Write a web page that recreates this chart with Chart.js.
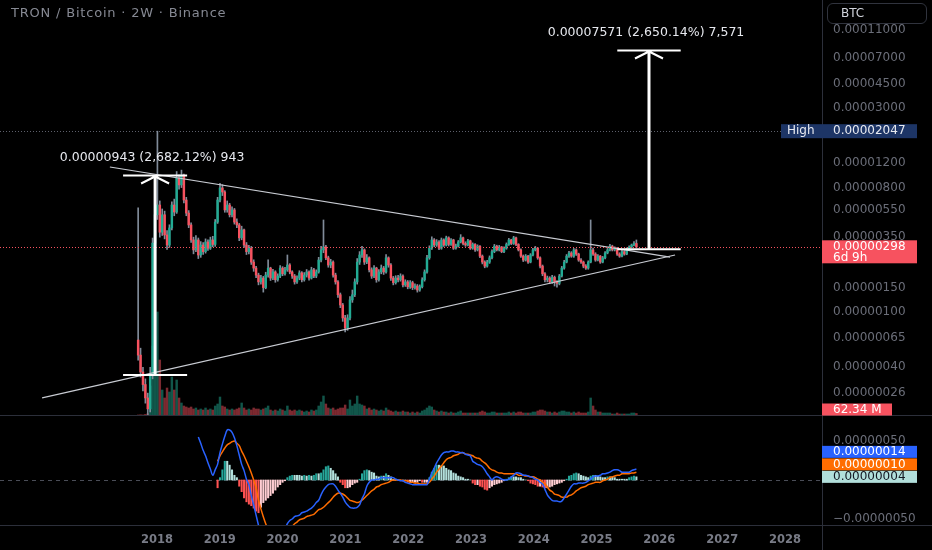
<!DOCTYPE html>
<html lang="en">
<head>
<meta charset="UTF-8">
<title>TRON / Bitcoin · 2W · Binance</title>
<script src="https://cdn.jsdelivr.net/npm/chart.js@4.4.1/dist/chart.umd.min.js"></script>
<style>
  html, body { margin: 0; padding: 0; background: #000; }
  #wrap { position: relative; width: 932px; height: 550px; overflow: hidden; background: #000; font-family: "DejaVu Sans", sans-serif; }
  #priceCv { position: absolute; left: 0; top: 0; }
  #macdCv { position: absolute; left: 0; top: 416px; }
  .title { position: absolute; left: 11px; top: 5px; color: #868993; font-size: 13px; letter-spacing: 0.8px; }
  .btc { position: absolute; left: 827px; top: 3px; width: 100px; height: 21px; box-sizing: border-box;
         border: 1px solid #30333d; border-radius: 6px; color: #d1d4dc; font-size: 12px; line-height: 19px; padding-left: 13px; }
</style>
</head>
<body>
<div id="wrap">
  <canvas id="priceCv" width="932" height="416"></canvas>
  <canvas id="macdCv" width="932" height="134"></canvas>
  <div class="title">TRON / Bitcoin · 2W · Binance</div>
  <div class="btc">BTC</div>
</div>
<script>
// 2-week candles, prices in satoshi (1e-8 BTC), first candle mid-Sept 2017
const startYear = 2017.70;
const stepYears = 14 / 365.25;

const opens = [63,49,37,30,24,20,35,317,508,598,
  380,508,363,307,408,598,532,937,836,985,
  650,523,429,334,283,334,260,307,275,323,
  291,334,310,450,650,795,743,551,598,508,
  551,450,429,346,395,307,275,291,231,209,
  186,166,177,151,186,209,177,196,172,183,
  209,190,203,220,196,183,166,177,193,172,
  186,196,177,203,183,196,239,283,297,248,
  220,231,186,166,134,113,91,77,91,123,
  134,166,231,260,283,231,248,203,183,209,
  172,196,209,196,248,220,177,164,177,172,
  183,158,166,153,164,151,155,145,153,172,
  196,248,291,334,307,323,291,334,307,346,
  310,334,291,301,323,346,315,307,329,291,
  310,283,301,255,231,216,231,248,275,301,
  283,297,275,291,310,334,315,346,310,283,
  255,239,255,231,260,283,291,248,216,190,
  172,177,166,179,166,162,183,209,231,255,
  269,255,283,264,239,231,216,209,231,283,
  264,239,255,231,248,269,283,301,283,291,
  264,255,275,264,287,297,307,315];

const highs = [570,55,40,33,26,40,345,560,2047,640,
  560,540,390,430,630,660,1045,990,1070,1000,
  680,545,445,350,360,345,325,320,340,335,
  350,355,470,680,860,840,760,640,615,580,
  565,475,440,420,400,320,305,300,240,215,
  192,185,182,195,240,212,205,200,190,218,
  214,212,260,225,200,188,184,200,197,194,
  204,200,212,208,203,250,300,466,305,255,
  242,236,192,170,138,116,95,96,130,145,
  175,245,275,300,288,262,252,210,218,212,
  204,220,215,262,252,225,182,184,185,190,
  187,172,170,170,168,161,159,158,178,203,
  258,303,352,342,336,330,345,340,356,352,
  342,338,312,331,365,350,324,338,333,318,
  314,308,304,260,236,238,256,283,310,306,
  305,300,298,318,343,338,355,350,314,288,
  260,262,258,266,290,300,295,252,220,194,
  183,181,185,183,170,188,215,238,262,276,
  275,290,288,268,245,235,222,236,466,292,
  270,262,258,254,275,290,310,306,298,295,
  270,282,280,293,303,312,325,334];

const lows = [45,34,27,22,18,19,33,290,470,350,
  360,340,285,295,395,500,520,780,800,620,
  500,410,320,265,275,245,250,262,268,280,
  285,298,300,440,630,700,530,530,490,490,
  435,410,330,335,295,262,265,222,198,178,
  158,160,140,148,180,170,172,165,168,178,
  184,186,198,190,176,160,162,172,166,168,
  180,171,174,178,178,192,232,270,240,212,
  210,180,160,128,108,86,72,74,88,118,
  130,160,222,250,222,225,196,176,178,165,
  168,190,188,192,212,170,158,160,166,168,
  153,154,148,149,146,147,140,142,150,168,
  192,242,285,298,300,284,286,300,302,302,
  305,285,286,296,318,308,300,302,285,286,
  276,278,249,224,210,212,226,244,270,278,
  278,270,270,286,305,309,310,304,278,250,
  233,235,226,228,256,278,242,210,184,166,
  166,161,162,155,152,158,180,205,228,250,
  250,250,258,234,226,210,204,205,228,258,
  234,236,226,228,244,265,278,278,278,258,
  250,252,259,261,283,293,303,294];

const closes = [49,37,30,24,20,35,317,508,598,380,
  508,363,307,408,598,532,937,836,985,650,
  523,429,334,283,334,260,307,275,323,291,
  334,310,450,650,795,743,551,598,508,551,
  450,429,346,395,307,275,291,231,209,186,
  166,177,151,186,209,177,196,172,183,209,
  190,203,220,196,183,166,177,193,172,186,
  196,177,203,183,196,239,283,297,248,220,
  231,186,166,134,113,91,77,91,123,134,
  166,231,260,283,231,248,203,183,209,172,
  196,209,196,248,220,177,164,177,172,183,
  158,166,153,164,151,155,145,153,172,196,
  248,291,334,307,323,291,334,307,346,310,
  334,291,301,323,346,315,307,329,291,310,
  283,301,255,231,216,231,248,275,301,283,
  297,275,291,310,334,315,346,310,283,255,
  239,255,231,260,283,291,248,216,190,172,
  177,166,179,166,162,183,209,231,255,269,
  255,283,264,239,231,216,209,231,283,264,
  239,255,231,248,269,283,301,283,291,264,
  255,275,264,287,297,307,315,298];

// volume in millions
const volumes = [25,30,25,40,60,750,1750,2000,2600,1400,
  650,450,700,600,975,650,900,450,325,250,
  225,200,225,175,200,150,175,150,200,150,
  175,150,250,300,475,250,225,175,150,175,
  150,175,200,325,200,150,175,150,200,175,
  175,150,175,200,250,150,125,150,125,175,
  150,125,250,150,125,150,125,150,125,100,
  125,100,150,125,150,250,350,500,300,200,
  175,200,150,175,200,200,275,175,400,250,
  300,500,300,275,250,175,200,150,175,150,
  125,150,125,200,150,125,100,125,100,100,
  125,100,100,75,100,75,100,75,125,150,
  200,250,225,150,125,100,125,100,100,75,
  100,75,75,100,125,75,75,75,75,75,
  75,75,100,125,100,75,75,100,100,75,
  75,75,75,75,100,75,100,75,100,100,
  75,75,75,75,100,100,125,150,150,125,
  100,100,75,100,75,100,125,125,100,100,
  75,100,75,100,75,75,75,100,450,250,
  150,100,100,75,75,75,75,50,50,75,
  50,50,50,50,50,75,75,62.34];

// MACD (12, 26, 9) in satoshi
const macdStart = 25;
const macdLine = [55,47,38,31,22,14,6,13,20,35,
  46,56,64,64,61,54,44,32,20,12,
  1,-6,-20,-32,-45,-58,-68,-83,-96,-106,
  -115,-120,-118,-110,-100,-83,-64,-56,-52,-50,
  -47,-46,-45,-42,-41,-40,-38,-36,-33,-29,
  -26,-19,-13,-9,-6,-5,-5,-8,-13,-17,
  -22,-28,-32,-35,-36,-36,-35,-32,-24,-18,
  -8,-3,0,0,1,1,3,3,3,3,
  3,3,1,0,-1,-1,-3,-4,-5,-6,
  -6,-6,-6,-6,-6,-6,1,9,15,22,
  27,32,35,36,36,37,37,36,36,35,
  35,33,32,31,24,22,20,19,17,13,
  8,4,0,3,4,3,1,0,0,1,
  4,6,9,9,8,6,6,5,4,3,
  1,0,-3,-5,-12,-19,-23,-26,-27,-27,
  -28,-27,-23,-18,-13,-8,-5,-5,-4,-4,
  -4,-3,-1,1,4,5,5,6,8,8,
  9,10,12,13,13,12,10,10,10,10,
  12,13,14];

const signalStart = 33;
const signalLine = [24,31,36,41,45,47,49,50,47,44,
  37,31,24,17,9,0,-10,-26,-37,-47,
  -56,-64,-70,-75,-79,-82,-83,-82,-78,-72,
  -65,-60,-56,-54,-51,-50,-49,-47,-46,-45,
  -44,-41,-38,-37,-35,-32,-29,-26,-22,-19,
  -17,-17,-18,-20,-23,-26,-27,-28,-29,-28,
  -26,-23,-20,-17,-14,-12,-9,-8,-6,-5,
  -4,-3,-1,0,0,0,0,-1,-1,-1,
  -3,-3,-4,-4,-5,-5,-5,-5,-3,1,
  5,10,14,18,22,26,28,29,31,32,
  33,35,35,33,33,32,31,29,28,27,
  24,22,19,15,13,12,10,9,9,8,
  8,8,8,8,8,6,6,6,5,5,
  4,4,3,1,0,-3,-5,-9,-13,-15,
  -18,-19,-20,-22,-22,-22,-20,-19,-17,-14,
  -12,-10,-9,-8,-6,-5,-4,-3,-3,-3,
  -1,0,1,3,4,5,6,6,8,8,
  8,8,9,9,10];

const histogram = [-10,3,13,24,24,19,13,6,3,-8,
  -15,-23,-28,-31,-33,-36,-40,-42,-35,-29,
  -26,-23,-20,-17,-13,-9,-6,-3,-1,3,
  5,6,6,6,6,5,6,5,6,5,
  6,8,8,9,13,17,18,15,12,8,
  4,-3,-6,-10,-10,-9,-6,-4,-3,1,
  8,12,13,12,10,9,5,4,5,5,
  8,6,4,1,1,0,-1,-1,-1,-3,
  -3,-3,-3,-3,-1,-3,-3,-3,3,10,
  15,19,19,18,18,15,13,12,9,8,
  5,4,3,1,1,0,-4,-6,-6,-8,
  -9,-12,-13,-10,-8,-6,-5,-4,-3,-1,
  1,3,4,4,4,3,3,1,0,-1,
  -4,-5,-6,-8,-8,-9,-10,-10,-9,-8,
  -6,-5,-4,-3,-1,1,5,6,8,9,
  8,6,5,4,3,5,6,6,5,4,
  3,3,4,4,4,3,1,1,1,1,
  1,3,4,5,4];

// drawings: triangle trendlines and two price-range measures
const trendUpperX = [2017.25, 2026.17];
const trendUpperY = [1127, 251];
const trendLowerX = [2016.17, 2026.25];
const trendLowerY = [24.0, 260];
const measureFrom = [2017.46, 2025.33];
const measureTo = [2018.48, 2026.34];
const measureLow = [35.16, 285.7];
const measureHigh = [978.2, 7856.7];
const measureText = ['0.00000943 (2,682.12%) 943', '0.00007571 (2,650.14%) 7,571'];

const priceTicks = [11000, 7000, 4500, 3000, 1200, 800, 550, 350, 250, 150, 100, 65, 40, 26];
const macdTicks = [50, -50];
const yearTicks = [2018, 2019, 2020, 2021, 2022, 2023, 2024, 2025, 2026, 2027, 2028];

const UP = '#22ab94', DOWN = '#f7525f', WICK = '#808b99';
const AXIS_TXT = '#6b6e79', SEP = '#2c2f3a';
const FONT = '"DejaVu Sans", sans-serif';
const X_MIN = 2015.5, X_MAX = 2028.59;

const times = closes.map((_, i) => startYear + i * stepYears);
const up = closes.map((c, i) => c >= opens[i]);
const lastPrice = closes[closes.length - 1];
const allTimeHigh = Math.max(...highs);
const sats = v => (v * 1e-8).toFixed(8);

Chart.defaults.font.family = FONT;

function fixWidth(s) { s.width = 110; s.paddingTop = 0; s.paddingBottom = 0; }

function tag(ctx, x, yc, w, h, bg) {
  ctx.fillStyle = bg;
  ctx.fillRect(x, yc - h / 2, w, h);
}

const paneA = {
  id: 'paneA',
  afterDatasetsDraw(chart) {
    const { ctx, chartArea: a, scales: { x, y } } = chart;
    ctx.save();
    ctx.beginPath();
    ctx.rect(a.left, a.top, a.right - a.left, a.bottom - a.top);
    ctx.clip();
    ctx.lineWidth = 1;
    ctx.setLineDash([1, 2]);
    let yy = Math.round(y.getPixelForValue(allTimeHigh)) + 0.5;
    ctx.strokeStyle = '#5d606b';
    ctx.beginPath(); ctx.moveTo(a.left, yy); ctx.lineTo(a.right, yy); ctx.stroke();
    yy = Math.round(y.getPixelForValue(lastPrice)) + 0.5;
    ctx.strokeStyle = '#f7525f';
    ctx.beginPath(); ctx.moveTo(a.left, yy); ctx.lineTo(a.right, yy); ctx.stroke();
    ctx.setLineDash([]);

    ctx.strokeStyle = '#ffffff';
    ctx.fillStyle = '#e6e8ee';
    ctx.font = '12.5px ' + FONT;
    ctx.textAlign = 'center';
    ctx.textBaseline = 'middle';
    for (let k = 0; k < measureText.length; k++) {
      const x1 = x.getPixelForValue(measureFrom[k]);
      const x2 = x.getPixelForValue(measureTo[k]);
      const cx = (x1 + x2) / 2;
      const yl = y.getPixelForValue(measureLow[k]);
      const yh = y.getPixelForValue(measureHigh[k]);
      ctx.lineWidth = 2;
      ctx.beginPath();
      ctx.moveTo(x1, yh); ctx.lineTo(x2, yh);
      ctx.moveTo(x1, yl); ctx.lineTo(x2, yl);
      ctx.moveTo(cx - 14, yh + 8); ctx.lineTo(cx, yh + 1); ctx.lineTo(cx + 14, yh + 8);
      ctx.stroke();
      ctx.lineWidth = 3;
      ctx.beginPath(); ctx.moveTo(cx, yl); ctx.lineTo(cx, yh); ctx.stroke();
      ctx.fillText(measureText[k], cx - 3, yh - 18);
    }
    ctx.restore();
  },
  afterDraw(chart) {
    const { ctx, scales: { y, vol } } = chart;
    ctx.save();
    ctx.strokeStyle = SEP;
    ctx.lineWidth = 1;
    ctx.beginPath();
    ctx.moveTo(822.5, 0); ctx.lineTo(822.5, 416);
    ctx.moveTo(0, 415.5); ctx.lineTo(932, 415.5);
    ctx.stroke();

    ctx.font = '12px ' + FONT;
    ctx.textBaseline = 'middle';
    ctx.textAlign = 'left';
    // all-time high
    let yc = y.getPixelForValue(allTimeHigh);
    tag(ctx, 781, yc, 136, 14, '#1d3566');
    ctx.fillStyle = '#e8eaf0';
    ctx.fillText('High', 787, yc);
    ctx.fillText(sats(allTimeHigh), 833, yc);
    // last price + countdown
    yc = y.getPixelForValue(lastPrice);
    ctx.fillStyle = '#f7525f';
    ctx.fillRect(822, yc - 6.5, 95, 23);
    ctx.fillStyle = '#ffffff';
    ctx.fillText(sats(lastPrice), 833, yc + 0.5);
    ctx.fillText('6d 9h', 833, yc + 11);
    // last volume
    const lastVol = volumes[volumes.length - 1];
    yc = Math.min(vol.getPixelForValue(lastVol), 409.5);
    tag(ctx, 822, yc, 70, 12, up[up.length - 1] ? UP : '#f7525f');
    ctx.fillStyle = '#ffffff';
    ctx.fillText(lastVol.toFixed(2) + ' M', 833, yc + 0.5);
    ctx.restore();
  }
};

new Chart(document.getElementById('priceCv'), {
  type: 'bar',
  data: {
    datasets: [
      {
        label: 'Volume', yAxisID: 'vol', order: 5, grouped: false, barThickness: 1.8, borderWidth: 0,
        data: times.map((t, i) => ({ x: t, y: volumes[i] })),
        backgroundColor: up.map(u => u ? 'rgba(34,171,148,0.5)' : 'rgba(247,82,95,0.5)')
      },
      {
        label: 'Wicks', yAxisID: 'y', order: 4, grouped: false, barThickness: 1, borderWidth: 0,
        data: times.map((t, i) => ({ x: t, y: [lows[i], highs[i]] })),
        backgroundColor: WICK
      },
      {
        label: 'Bodies', yAxisID: 'y', order: 3, grouped: false, barThickness: 1.8, borderWidth: 0, minBarLength: 1,
        data: times.map((t, i) => ({ x: t, y: [opens[i], closes[i]] })),
        backgroundColor: up.map(u => u ? UP : DOWN)
      },
      {
        type: 'line', label: 'Upper', yAxisID: 'y', order: 1,
        data: trendUpperX.map((t, i) => ({ x: t, y: trendUpperY[i] })),
        borderColor: '#c9ccd3', borderWidth: 1.2, pointRadius: 0
      },
      {
        type: 'line', label: 'Lower', yAxisID: 'y', order: 1,
        data: trendLowerX.map((t, i) => ({ x: t, y: trendLowerY[i] })),
        borderColor: '#c9ccd3', borderWidth: 1.2, pointRadius: 0
      }
    ]
  },
  options: {
    responsive: false,
    animation: false,
    layout: { padding: 0 },
    plugins: { legend: { display: false }, tooltip: { enabled: false } },
    scales: {
      x: { type: 'linear', min: X_MIN, max: X_MAX, offset: false, display: false, grid: { offset: false } },
      y: {
        type: 'logarithmic', position: 'right', min: 17.76, max: 18227,
        grid: { display: false, drawTicks: false }, border: { display: false },
        afterBuildTicks: s => { s.ticks = priceTicks.map(v => ({ value: v })); },
        afterFit: fixWidth,
        ticks: { autoSkip: false, padding: 11, color: AXIS_TXT, font: { size: 12 }, callback: v => sats(v) }
      },
      vol: { type: 'linear', min: 0, max: 10400, display: false }
    }
  },
  plugins: [paneA]
});

const histColors = histogram.map((h, k) => {
  const prev = k > 0 ? histogram[k - 1] : 0;
  if (h >= 0) return h > prev ? '#26a69a' : '#b2dfdb';
  return h < prev ? '#ff5252' : '#ffcdd2';
});

const paneB = {
  id: 'paneB',
  beforeDatasetsDraw(chart) {
    const { ctx, chartArea: a, scales: { m } } = chart;
    const y0 = Math.round(m.getPixelForValue(0)) + 0.5;
    ctx.save();
    ctx.strokeStyle = '#4a4d57';
    ctx.lineWidth = 1;
    ctx.setLineDash([4, 4]);
    ctx.beginPath(); ctx.moveTo(a.left, y0); ctx.lineTo(a.right, y0); ctx.stroke();
    ctx.restore();
  },
  afterDraw(chart) {
    const { ctx, chartArea: a, scales: { m } } = chart;
    ctx.save();
    ctx.strokeStyle = SEP;
    ctx.lineWidth = 1;
    ctx.beginPath();
    ctx.moveTo(822.5, 0); ctx.lineTo(822.5, 134);
    ctx.moveTo(0, a.bottom + 0.5); ctx.lineTo(932, a.bottom + 0.5);
    ctx.stroke();

    ctx.font = '12px ' + FONT;
    ctx.textBaseline = 'middle';
    ctx.textAlign = 'left';
    const lastHist = histogram[histogram.length - 1];
    const rows = [
      { v: macdLine[macdLine.length - 1], bg: '#2962ff', fg: '#ffffff' },
      { v: signalLine[signalLine.length - 1], bg: '#ff6d00', fg: '#ffffff' },
      { v: lastHist, bg: histColors[histColors.length - 1], fg: '#131722' }
    ];
    const base = m.getPixelForValue(lastHist);
    rows.forEach((r, k) => {
      const yc = base - (2 - k) * 12.5;
      tag(ctx, 822, yc, 95, 12, r.bg);
      ctx.fillStyle = r.fg;
      ctx.fillText(sats(r.v), 833, yc + 0.5);
    });
    ctx.restore();
  }
};

new Chart(document.getElementById('macdCv'), {
  type: 'bar',
  data: {
    datasets: [
      {
        label: 'Histogram', yAxisID: 'm', order: 3, grouped: false, barThickness: 1.4, borderWidth: 0,
        data: histogram.map((h, k) => ({ x: times[k + signalStart], y: h })),
        backgroundColor: histColors
      },
      {
        type: 'line', label: 'MACD', yAxisID: 'm', order: 1,
        data: macdLine.map((v, k) => ({ x: times[k + macdStart], y: v })),
        borderColor: '#2962ff', borderWidth: 1.5, pointRadius: 0, tension: 0.3
      },
      {
        type: 'line', label: 'Signal', yAxisID: 'm', order: 2,
        data: signalLine.map((v, k) => ({ x: times[k + signalStart], y: v })),
        borderColor: '#ff6d00', borderWidth: 1.5, pointRadius: 0, tension: 0.3
      }
    ]
  },
  options: {
    responsive: false,
    animation: false,
    layout: { padding: 0 },
    plugins: { legend: { display: false }, tooltip: { enabled: false } },
    scales: {
      x: {
        type: 'linear', min: X_MIN, max: X_MAX, offset: false,
        grid: { display: false, offset: false, drawTicks: false }, border: { display: false },
        afterBuildTicks: s => { s.ticks = yearTicks.map(v => ({ value: v })); },
        afterFit: s => { s.height = 25; s.paddingLeft = 0; s.paddingRight = 0; },
        ticks: { autoSkip: false, maxRotation: 0, padding: 8, color: '#787b86', font: { size: 11.5, weight: 'bold' }, callback: v => String(v) }
      },
      m: {
        type: 'linear', position: 'right', min: -57.7, max: 82,
        grid: { display: false, drawTicks: false }, border: { display: false },
        afterBuildTicks: s => { s.ticks = macdTicks.map(v => ({ value: v })); },
        afterFit: fixWidth,
        ticks: { autoSkip: false, padding: 11, color: AXIS_TXT, font: { size: 12 },
          callback: v => (v < 0 ? '\u2212' : '') + sats(Math.abs(v)) }
      }
    }
  },
  plugins: [paneB]
});
</script>
</body>
</html>
